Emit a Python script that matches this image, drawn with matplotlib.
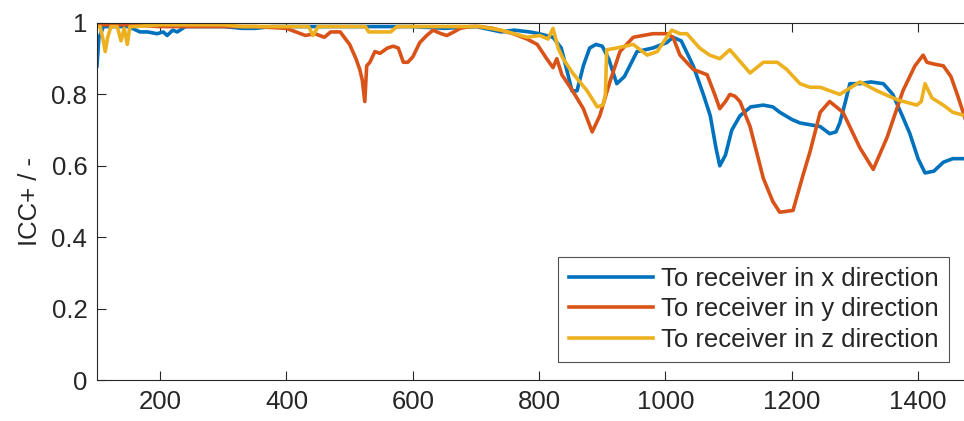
import matplotlib
matplotlib.use("Agg")
import matplotlib.pyplot as plt

plt.rcParams['font.family'] = ['Liberation Sans', 'DejaVu Sans']

# ---- data ----
x_blue = [100, 103, 106, 110, 130, 150, 168, 180, 195, 205, 211, 220, 227, 240, 300, 330, 350, 378, 400, 450,
          500, 540, 565, 600, 650, 700, 740, 760, 785, 800, 822, 835, 845, 852, 860, 870, 880, 890, 900, 910,
          923, 935, 955, 980, 1002, 1012, 1025, 1044, 1060, 1071, 1080, 1086, 1095, 1105, 1118, 1135, 1155, 1170,
          1181, 1200, 1213, 1229, 1245, 1260, 1270, 1276, 1285, 1292, 1308, 1325, 1345, 1360, 1375, 1387, 1400,
          1411, 1425, 1440, 1455, 1475]
y_blue = [0.88, 0.96, 0.97, 0.99, 0.99, 0.99, 0.975, 0.975, 0.97, 0.975, 0.965, 0.98, 0.975, 0.99, 0.99, 0.985,
          0.985, 0.99, 0.99, 0.99, 0.99, 0.99, 0.99, 0.99, 0.985, 0.99, 0.975, 0.98, 0.975, 0.97, 0.96, 0.93, 0.86,
          0.81, 0.81, 0.88, 0.93, 0.94, 0.935, 0.90, 0.83, 0.85, 0.92, 0.93, 0.945, 0.96, 0.95, 0.88, 0.80, 0.74,
          0.65, 0.60, 0.63, 0.70, 0.74, 0.765, 0.77, 0.765, 0.75, 0.73, 0.72, 0.715, 0.71, 0.69, 0.695, 0.72, 0.78,
          0.83, 0.83, 0.835, 0.83, 0.80, 0.74, 0.69, 0.62, 0.58, 0.585, 0.61, 0.62, 0.62]

x_red = [100, 150, 200, 250, 300, 350, 400, 415, 430, 445, 460, 470, 485, 500, 510, 516, 520, 524, 527, 532,
         540, 548, 560, 569, 577, 585, 592, 600, 611, 622, 632, 645, 654, 665, 675, 690, 706, 727, 759, 781,
         797, 812, 822, 828, 836, 853, 870, 884, 896, 912, 928, 949, 980, 1002, 1012, 1023, 1044, 1066, 1078,
         1086, 1095, 1102, 1110, 1118, 1134, 1155, 1170, 1181, 1202, 1218, 1229, 1245, 1260, 1281, 1308, 1329,
         1351, 1376, 1395, 1408, 1414, 1425, 1440, 1452, 1462, 1475]
y_red = [0.995, 0.995, 0.99, 0.99, 0.99, 0.99, 0.985, 0.975, 0.965, 0.97, 0.96, 0.975, 0.975, 0.94, 0.90, 0.87,
         0.84, 0.78, 0.88, 0.89, 0.92, 0.915, 0.93, 0.935, 0.93, 0.89, 0.89, 0.905, 0.945, 0.965, 0.98, 0.97,
         0.965, 0.975, 0.985, 0.99, 0.99, 0.985, 0.97, 0.955, 0.94, 0.90, 0.875, 0.90, 0.855, 0.81, 0.76, 0.695,
         0.74, 0.835, 0.92, 0.96, 0.97, 0.97, 0.96, 0.91, 0.87, 0.855, 0.80, 0.76, 0.78, 0.80, 0.795, 0.78, 0.71,
         0.565, 0.50, 0.47, 0.475, 0.575, 0.64, 0.75, 0.78, 0.75, 0.65, 0.59, 0.68, 0.81, 0.88, 0.91, 0.89,
         0.885, 0.88, 0.85, 0.80, 0.73]

x_yel = [100, 105, 110, 113, 117, 122, 128, 132, 138, 143, 148, 152, 160, 200, 250, 300, 330, 435, 442, 450,
         500, 525, 530, 565, 575, 600, 650, 706, 740, 781, 801, 814, 822, 830, 838, 853, 876, 892, 901, 905,
         907, 923, 949, 971, 987, 1002, 1010, 1023, 1034, 1054, 1070, 1086, 1102, 1134, 1155, 1177, 1192, 1213,
         1229, 1245, 1276, 1308, 1335, 1367, 1398, 1405, 1411, 1422, 1440, 1455, 1475]
y_yel = [0.99, 0.99, 0.95, 0.92, 0.96, 0.99, 0.99, 0.99, 0.95, 0.985, 0.94, 0.99, 0.99, 0.995, 0.995, 0.995,
         0.99, 0.99, 0.965, 0.99, 0.99, 0.99, 0.975, 0.975, 0.99, 0.99, 0.99, 0.99, 0.98, 0.96, 0.965, 0.955,
         0.985, 0.93, 0.90, 0.86, 0.81, 0.765, 0.77, 0.80, 0.925, 0.93, 0.94, 0.91, 0.92, 0.96, 0.98, 0.97, 0.97,
         0.93, 0.91, 0.90, 0.925, 0.86, 0.89, 0.89, 0.87, 0.83, 0.82, 0.82, 0.80, 0.835, 0.81, 0.785, 0.77, 0.78,
         0.83, 0.79, 0.77, 0.75, 0.74]

labels = ["To receiver in x direction", "To receiver in y direction", "To receiver in z direction"]
x_ticks = [200, 400, 600, 800, 1000, 1200, 1400]
y_ticks = [0, 0.2, 0.4, 0.6, 0.8, 1]
y_ticklabels = ["0", "0.2", "0.4", "0.6", "0.8", "1"]
ylabel = "ICC+ / -"

# ---- figure ----
fig = plt.figure(figsize=(9.64, 4.21), dpi=100)
ax = fig.add_axes([97 / 964, 41 / 421, 0.905, 357 / 421])

colors = ["#0072BD", "#D95319", "#EDB120"]
lw = 2.6
ax.plot(x_blue, y_blue, color=colors[0], lw=lw, label=labels[0])
ax.plot(x_red, y_red, color=colors[1], lw=lw, label=labels[1])
ax.plot(x_yel, y_yel, color=colors[2], lw=lw, label=labels[2])

ax.set_xlim(100, 100 + 0.905 * 964 / 0.6316)
ax.set_ylim(0, 1)
ax.set_xticks(x_ticks)
ax.set_xticklabels([str(v) for v in x_ticks])
ax.set_yticks(y_ticks)
ax.set_yticklabels(y_ticklabels)
ax.set_ylabel(ylabel, fontsize=18.5, color="#262626", labelpad=7)

ax.tick_params(direction="in", length=6.5, width=0.8, colors="#262626", labelsize=18.5,
               top=True, right=False, pad=7)
ax.spines["right"].set_visible(False)
for s in ax.spines.values():
    s.set_color("#262626")
    s.set_linewidth(0.8)

leg = ax.legend(loc="lower right", bbox_to_anchor=(949 / 964, 59 / 421), bbox_transform=fig.transFigure,
                borderaxespad=0, fontsize=18.5, frameon=True, fancybox=False, edgecolor="#262626",
                handlelength=3.3, handletextpad=0.3, labelspacing=0.25, borderpad=0.4)
leg.get_frame().set_linewidth(0.8)
for t in leg.get_texts():
    t.set_color("#262626")

fig.savefig("out.png", dpi=100, facecolor="white")
